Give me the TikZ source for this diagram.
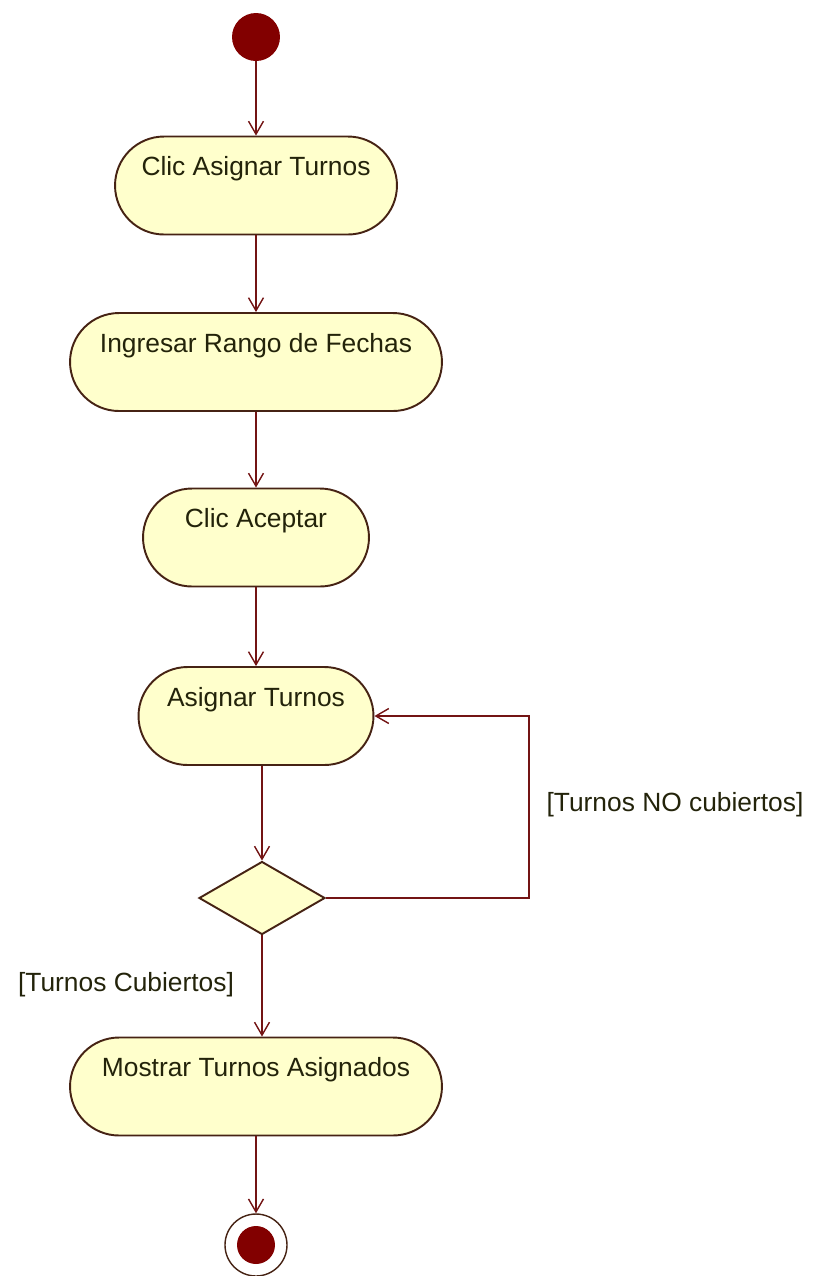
\documentclass[tikz,border=0pt]{standalone}
\usepackage{fontspec}
\setmainfont{Liberation Sans}
\usetikzlibrary{arrows.meta,shapes.geometric}
\definecolor{linea}{RGB}{115,20,20}
\definecolor{borde}{RGB}{70,35,20}
\definecolor{relleno}{RGB}{255,255,204}
\definecolor{punto}{RGB}{130,0,0}
\definecolor{letra}{RGB}{35,35,10}

\begin{document}
\begin{tikzpicture}[x=0.02cm,y=-0.02cm,
  font=\fontsize{15pt}{18pt}\selectfont, text=letra,
  accion/.style={draw=borde,line width=1.1pt,fill=relleno,rectangle,
    rounded corners=0.98cm,inner xsep=0pt,inner ysep=0pt,
    text height=0.78cm,text depth=1.18cm},
  decision/.style={draw=borde,line width=1.1pt,fill=relleno,diamond,
    inner sep=0pt,minimum width=2.52cm,minimum height=1.46cm},
  inicio/.style={circle,fill=punto,inner sep=0pt,minimum size=0.96cm},
  finout/.style={circle,draw=borde,line width=0.8pt,fill=white,inner sep=0pt,minimum size=1.24cm},
  finin/.style={circle,fill=punto,inner sep=0pt,minimum size=0.76cm},
  flujo/.style={draw=linea,line width=1pt,
    -{Straight Barb[length=0.26cm,width=0.3cm,line width=0.8pt]}},
  guarda/.style={inner sep=0pt}]
  \useasboundingbox (0,0) rectangle (818,1276);
  % nodos
  \node[inicio] (ini) at (256,37) {};
  \node[accion,minimum width=5.64cm] (clic) at (256,185.5) {Clic Asignar Turnos};
  \node[accion,minimum width=7.44cm] (rango) at (256,362) {Ingresar Rango de Fechas};
  \node[accion,minimum width=4.52cm] (acep) at (256,537.5) {Clic Aceptar};
  \node[accion,minimum width=4.70cm] (asig) at (256,716) {Asignar Turnos};
  \node[decision] (dec) at (262,898) {};
  \node[accion,minimum width=7.44cm] (most) at (256,1086.5) {Mostrar Turnos Asignados};
  \node[finout] (fin) at (256,1245) {};
  \node[finin] (finp) at (fin) {};
  \coordinate (vuelta) at (529,898);
  % guardas
  \node[guarda] (noc) at (675,805) {[Turnos NO cubiertos]};
  \node[guarda] (cub) at (126,985) {[Turnos Cubiertos]};
  % transiciones
  \draw[flujo] (ini) -- (clic);
  \draw[flujo] (clic) -- (rango);
  \draw[flujo] (rango) -- (acep);
  \draw[flujo] (acep) -- (asig);
  \draw[flujo] (asig.south -| dec.north) -- (dec.north);
  \draw[flujo] (dec.east) -- (vuelta) |- (asig.east);
  \draw[flujo] (dec.south) -- (most.north -| dec.south);
  \draw[flujo] (most) -- (fin);
\end{tikzpicture}
\end{document}
